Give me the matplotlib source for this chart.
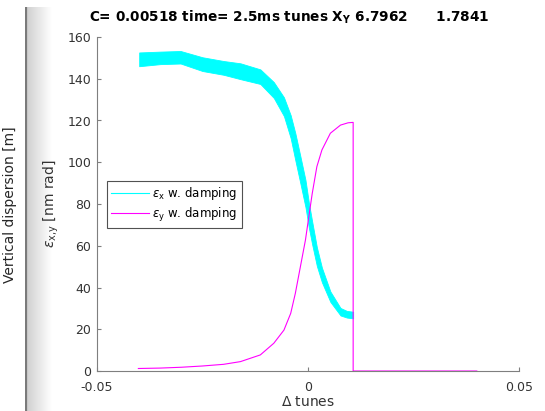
import numpy as np
import matplotlib
matplotlib.use('Agg')
import matplotlib.pyplot as plt

# eps_x band (cyan): delta tune, centre of the noisy band, half thickness
dq_x = [-0.0400, -0.0350, -0.0302, -0.0250, -0.0200, -0.0160, -0.0113, -0.0081,
        -0.0057, -0.0041, -0.0030, -0.0018, -0.0006, 0.0002, 0.0010, 0.0021,
        0.0033, 0.0053, 0.0077, 0.0092, 0.0107]
eps_x_mid = [149.3, 150.0, 150.3, 147.0, 145.2, 143.6, 141.0, 134.6,
             126.6, 117.0, 107.4, 96.3, 85.0, 74.7, 66.0, 54.8,
             46.0, 35.6, 28.4, 27.2, 26.8]
eps_x_spread = [3.3, 3.0, 3.0, 3.3, 3.3, 3.8, 3.5, 3.8,
                4.5, 5.5, 6.5, 6.5, 6.5, 6.0, 5.5, 4.5,
                3.5, 2.5, 1.8, 1.6, 1.6]

# eps_y (magenta), with the drop to zero and the flat tail
dq_y = [-0.0402, -0.0350, -0.0300, -0.0250, -0.0200, -0.0160, -0.0113, -0.0081,
        -0.0057, -0.0041, -0.0030, -0.0018, -0.0006, 0.0002, 0.0010, 0.0021,
        0.0033, 0.0053, 0.0077, 0.0095, 0.0107, 0.0107, 0.0400]
eps_y = [1.2, 1.4, 1.8, 2.4, 3.2, 4.5, 7.7, 13.3,
         19.6, 27.6, 37.2, 50.0, 62.8, 74.0, 85.0, 97.9,
         105.9, 113.9, 117.8, 118.9, 119.1, 0.0, 0.0]

title_txt = r'C= 0.00518 time= 2.5ms tunes X$_{\mathbf{Y}}$ 6.7962      1.7841'
xticks = [-0.05, 0, 0.05]
xtick_labels = ['-0.05', '0', '0.05']
yticks = [0, 20, 40, 60, 80, 100, 120, 140, 160]

W, H = 545, 411
fig = plt.figure(figsize=(W / 100, H / 100), dpi=100)

# grey strip on the left edge
strip = fig.add_axes([25 / W, 0, 27 / W, (H - 7) / H])
grad = np.linspace(0.80, 1.0, 100).reshape(1, -1)
strip.imshow(grad, cmap='gray', vmin=0, vmax=1, aspect='auto', extent=[0, 1, 0, 1])
strip.axvline(0.04, color='#7a7a7a', lw=1.6)
strip.set_axis_off()
fig.text(10 / W, 1 - 205 / H, 'Vertical dispersion [m]', rotation=90,
         ha='center', va='center', fontsize=10, color='#262626')

ax = fig.add_axes([97 / W, 1 - 371 / H, (519 - 97) / W, (371 - 37) / H])
mid = np.array(eps_x_mid)
spread = np.array(eps_x_spread)
ax.fill_between(dq_x, mid - spread, mid + spread, color='cyan', lw=0.6, edgecolor='cyan')
ax.plot(dq_y, eps_y, color='magenta', lw=0.8)
# proxy lines for the legend
lx, = ax.plot([], [], color='cyan', lw=0.8)
ly, = ax.plot([], [], color='magenta', lw=0.8)

ax.set_xlim(-0.05, 0.05)
ax.set_ylim(0, 160)
ax.set_xticks(xticks)
ax.set_xticklabels(xtick_labels)
ax.set_yticks(yticks)
for s in ['top', 'right']:
    ax.spines[s].set_visible(False)
for s in ['left', 'bottom']:
    ax.spines[s].set_color('#7f7f7f')
    ax.spines[s].set_linewidth(0.8)
ax.tick_params(direction='in', length=3, width=0.8, color='#7f7f7f',
               labelsize=9, labelcolor='#333333', pad=4)
ax.tick_params(axis='x', pad=7)
ax.set_xlabel(r'$\Delta$ tunes', fontsize=10, color='#333333', labelpad=1)
ax.set_ylabel(r'$\epsilon_{\rm x{,}y}$ [nm rad]', fontsize=10, color='#333333', labelpad=5)

leg = ax.legend([lx, ly], [r'$\epsilon_{\rm x}$ w. damping', r'$\epsilon_{\rm y}$ w. damping'],
                loc='upper left', bbox_to_anchor=((107 - 97) / 422, (371 - 181) / 334),
                fontsize=8.5, frameon=True, fancybox=False, handlelength=3.2,
                handletextpad=0.3, borderpad=0.35, labelspacing=0.3, borderaxespad=0)
leg.get_frame().set_edgecolor('#262626')
leg.get_frame().set_linewidth(0.8)

fig.text(289 / W, 1 - 17 / H, title_txt, ha='center', va='center',
         fontsize=9.8, fontweight='bold', color='black')

fig.savefig('out.png', dpi=100)
